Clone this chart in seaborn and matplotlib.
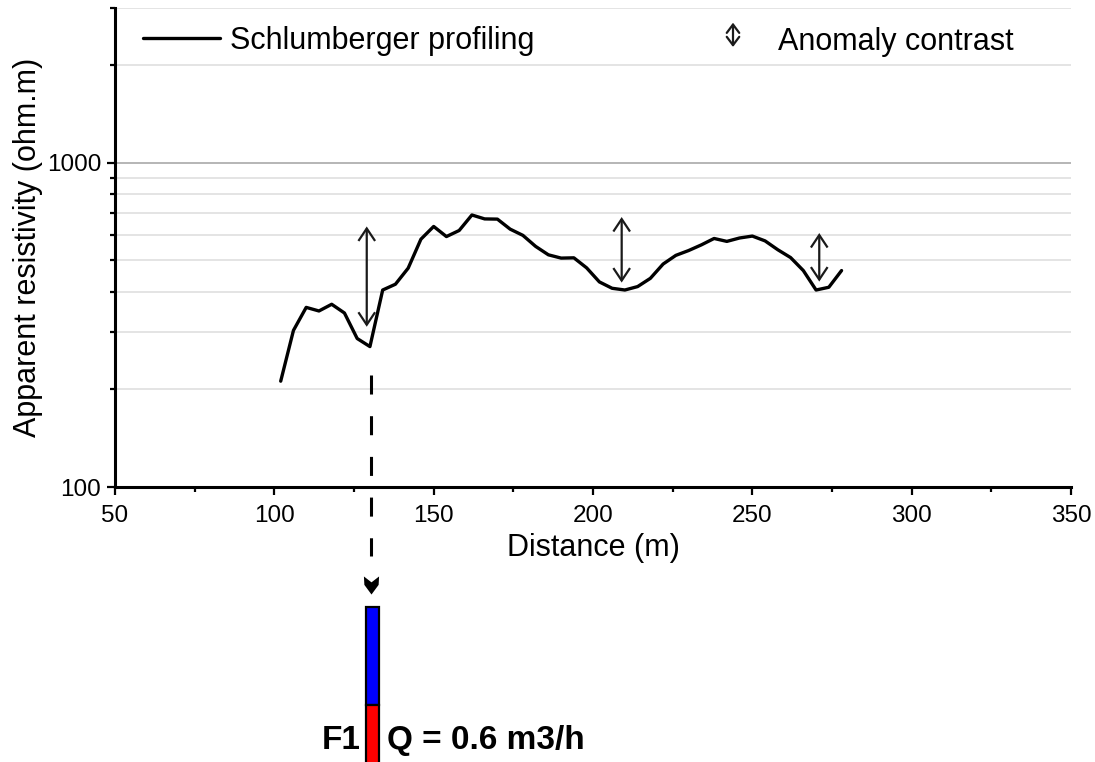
import matplotlib
matplotlib.use("Agg")
import matplotlib.pyplot as plt
import matplotlib.transforms as mtransforms
from matplotlib.patches import FancyArrowPatch, Rectangle, ArrowStyle
from matplotlib.path import Path
from matplotlib.ticker import FixedLocator, FixedFormatter, NullFormatter, LogLocator, MultipleLocator
import pandas as pd
import seaborn as sns

# Schlumberger resistivity profile
distance = [102, 106, 110, 114, 118, 122, 126, 130, 134, 138, 142, 146, 150, 154, 158,
            162, 166, 170, 174, 178, 182, 186, 190, 194, 198, 202, 206, 210, 214, 218,
            222, 226, 230, 234, 238, 242, 246, 250, 254, 258, 262, 266, 270, 274, 278]
resistivity = [212, 304, 358, 349, 366, 344, 287, 271, 405, 422, 473, 581, 636, 592, 618,
               690, 671, 670, 624, 597, 552, 520, 508, 509, 474, 429, 410, 405, 415, 440,
               487, 518, 536, 558, 584, 572, 586, 594, 574, 539, 510, 465, 405, 413, 465]

# Anomaly contrasts (distance, upper and lower resistivity)
contrast_x = [129, 209, 271]
contrast_high = [636, 680, 607]
contrast_low = [312, 427, 430]

x_ticks = [50, 100, 150, 200, 250, 300, 350]
y_ticks = [100, 1000]
y_tick_labels = ["100", "1000"]

well_distance = 130.3
well_name = "F1"
well_yield = "Q = 0.6 m3/h"

sns.set_theme(style="white")
plt.rcParams["font.family"] = ["Liberation Sans", "DejaVu Sans"]
plt.rcParams["lines.scale_dashes"] = False

W, H = 1095, 762
fig = plt.figure(figsize=(W / 100, H / 100), dpi=100)
ax = fig.add_axes([115 / W, 1 - 487 / H, 956 / W, 479 / H])


def fy(py):
    return 1 - py / H


df = pd.DataFrame({"Distance (m)": distance, "Apparent resistivity (ohm.m)": resistivity})
sns.lineplot(data=df, x="Distance (m)", y="Apparent resistivity (ohm.m)",
             color="black", lw=2.4, ax=ax, zorder=4)

ax.set_yscale("log")
ax.set_xlim(50, 350)
ax.set_ylim(100, 3000)

ax.xaxis.set_major_locator(FixedLocator(x_ticks))
ax.xaxis.set_minor_locator(MultipleLocator(25))
ax.yaxis.set_major_locator(FixedLocator(y_ticks))
ax.yaxis.set_major_formatter(FixedFormatter(y_tick_labels))
ax.yaxis.set_minor_locator(LogLocator(base=10, subs=range(2, 10)))
ax.yaxis.set_minor_formatter(NullFormatter())

ax.grid(False)
ax.grid(True, which="minor", axis="y", color="#e2e2e2", lw=1.3, zorder=0)
ax.grid(True, which="major", axis="y", color="#b0b0b0", lw=1.3, zorder=0)
ax.set_axisbelow(True)

for side in ("top", "right"):
    ax.spines[side].set_visible(False)
for side in ("left", "bottom"):
    ax.spines[side].set_color("black")
    ax.spines[side].set_linewidth(2.2)

ax.tick_params(which="both", bottom=True, left=True, direction="out", color="black")
ax.tick_params(which="major", length=6, width=1.6, labelsize=17.5, labelcolor="black")
ax.tick_params(axis="x", which="major", pad=7)
ax.tick_params(axis="y", which="major", pad=4)
ax.tick_params(which="minor", length=3.5, width=1.6)

ax.set_xlabel("Distance (m)", fontsize=22, labelpad=4, color="black")
ax.set_ylabel("Apparent resistivity (ohm.m)", fontsize=22, labelpad=3, color="black")

# anomaly contrast arrows
arrow_style = ArrowStyle("<->", head_length=0.45, head_width=0.3)
for x, hi, lo in zip(contrast_x, contrast_high, contrast_low):
    ax.add_patch(FancyArrowPatch((x, hi), (x, lo), arrowstyle=arrow_style, mutation_scale=20,
                                 shrinkA=0, shrinkB=0, lw=1.6, color="#1a1a1a",
                                 joinstyle="miter", capstyle="butt", zorder=5))

# legend entries
ax.plot([28 / 956, 105 / 956], [(487 - 38) / 479] * 2, transform=ax.transAxes,
        color="black", lw=2.4, clip_on=False)
ax.text(115 / 956, (487 - 48.5) / 479, "Schlumberger profiling", transform=ax.transAxes,
        fontsize=22, ha="left", va="baseline", color="black")
legend_arrow = ArrowStyle("<->", head_length=0.6, head_width=0.45)
ax.add_patch(FancyArrowPatch((618 / 956, (487 - 22.7) / 479), (618 / 956, (487 - 47) / 479),
                             transform=ax.transAxes, arrowstyle=legend_arrow, mutation_scale=10,
                             shrinkA=0, shrinkB=0, lw=1.6, color="#1a1a1a", clip_on=False))
ax.text(663 / 956, (487 - 50) / 479, "Anomaly contrast", transform=ax.transAxes,
        fontsize=22, ha="left", va="baseline", color="black")

# dashed link from the anomaly to the borehole
trans = mtransforms.blended_transform_factory(ax.transData, fig.transFigure)
ax.plot([well_distance, well_distance], [fy(375), fy(556)], transform=trans, color="black",
        lw=2.2, dashes=(13.7, 15.6), clip_on=False)
head = Path([(0, -1), (-0.79, 0.07), (-0.84, 1), (0, 0.35), (0.84, 1), (0.79, 0.07), (0, -1)],
            [Path.MOVETO] + [Path.LINETO] * 5 + [Path.CLOSEPOLY])
ax.plot([well_distance], [fy(584.5)], transform=trans, marker=head, markersize=13,
        color="black", markeredgewidth=0, clip_on=False)

# borehole column
half_w = 1.93
x0 = well_distance + 0.5 - half_w
fig.patches.append(Rectangle((x0, fy(705)), 2 * half_w, fy(606.7) - fy(705),
                             transform=trans, facecolor="#0000ff", edgecolor="black", lw=1.6))
fig.patches.append(Rectangle((x0, fy(790)), 2 * half_w, fy(705) - fy(790),
                             transform=trans, facecolor="#ff0000", edgecolor="black", lw=1.6))

fig.text(341.5 / W, fy(749), well_name, ha="center", va="baseline", fontsize=24,
         fontweight="bold", color="black")
fig.text(387 / W, fy(749), well_yield, ha="left", va="baseline", fontsize=24,
         fontweight="bold", color="black")

fig.savefig("out.png", dpi=100, facecolor="white")
